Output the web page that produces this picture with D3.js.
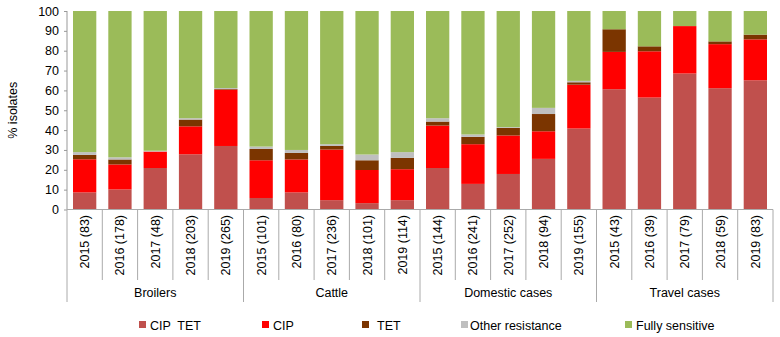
<!DOCTYPE html>
<html>
<head>
<meta charset="utf-8">
<script src="https://cdn.jsdelivr.net/npm/d3@7"></script>
<style>
  body { margin: 0; background: #fff; }
  svg text { font-family: "Liberation Sans", Arial, sans-serif; fill: #000; }
</style>
</head>
<body>
<svg id="chart" width="780" height="337"></svg>
<script>
const groups = ["Broilers", "Cattle", "Domestic cases", "Travel cases"];
const yearLabels = [
  ["2015 (83)", "2016 (178)", "2017 (48)", "2018 (203)", "2019 (265)"],
  ["2015 (101)", "2016 (80)", "2017 (236)", "2018 (101)", "2019 (114)"],
  ["2015 (144)", "2016 (241)", "2017 (252)", "2018 (94)", "2019 (155)"],
  ["2015 (43)", "2016 (39)", "2017 (79)", "2018 (59)", "2019 (83)"]
];
const seriesNames = ["CIP  TET", "CIP", "TET", "Other resistance", "Fully sensitive"];
const colors = ["#C0504D", "#FF0000", "#7B3500", "#BFBFBF", "#9BBB59"];

// % isolates per category, in order of yearLabels (flattened)
const cipTet = [8.6, 10.1, 20.9, 27.8, 32.0, 5.8, 8.6, 4.7, 3.2, 4.7, 20.9, 12.9, 17.9, 25.5, 40.8, 60.6, 56.4, 68.5, 61.1, 65.1];
const cip = [16.7, 12.6, 8.3, 14.1, 28.4, 19.0, 16.6, 25.5, 16.7, 15.6, 21.4, 20.0, 19.4, 13.9, 22.1, 18.8, 23.3, 23.9, 22.2, 20.6];
const tet = [2.2, 2.5, 0, 3.4, 0.3, 5.7, 3.3, 1.8, 4.9, 5.7, 2.0, 3.7, 3.8, 8.7, 1.2, 11.4, 2.5, 0, 1.4, 2.4];
const other = [1.4, 1.1, 0.4, 0.7, 0.5, 1.2, 1.5, 0.9, 2.9, 2.9, 1.7, 1.2, 0.4, 3.1, 0.7, 0, 0, 0, 0, 0];
const fullySens = [71.1, 73.7, 70.4, 54.0, 38.8, 68.3, 70.0, 67.1, 72.3, 71.1, 54.0, 62.2, 58.5, 48.8, 35.2, 9.2, 17.8, 7.6, 15.3, 11.9];
const yTicks = [0, 10, 20, 30, 40, 50, 60, 70, 80, 90, 100];

const svg = d3.select("#chart");
const margin = { left: 67, top: 11, right: 7 };
const plotBottom = 209.5;

const cats = yearLabels.flat();
const rows = cats.map((c, i) => ({
  cat: c,
  "CIP  TET": cipTet[i],
  "CIP": cip[i],
  "TET": tet[i],
  "Other resistance": other[i],
  "Fully sensitive": fullySens[i]
}));

const x = d3.scaleBand()
  .domain(cats)
  .range([margin.left, 780 - margin.right])
  .paddingInner(0.34)
  .paddingOuter(0.17);

const y = d3.scaleLinear().domain([0, 100]).range([plotBottom, margin.top]);

const stack = d3.stack().keys(seriesNames);
const layers = stack(rows);

svg.append("g")
  .selectAll("g")
  .data(layers)
  .join("g")
  .attr("fill", (d, i) => colors[i])
  .selectAll("rect")
  .data(d => d)
  .join("rect")
  .attr("x", d => x(d.data.cat))
  .attr("width", x.bandwidth())
  .attr("y", d => y(Math.min(100, d[1])))
  .attr("height", d => Math.max(0, y(d[0]) - y(Math.min(100, d[1]))));

// y axis
const yAxis = d3.axisLeft(y).tickValues(yTicks).tickSize(3).tickPadding(5);
const gy = svg.append("g")
  .attr("transform", `translate(${margin.left},0)`)
  .call(yAxis);
gy.select(".domain").attr("stroke", "#999").attr("d", `M0,${y(0)}V${y(100)}`);
gy.selectAll(".tick line").attr("stroke", "#999");
gy.selectAll(".tick text").attr("font-size", 12.5).attr("font-family", "Liberation Sans, Arial, sans-serif");

svg.append("text")
  .attr("transform", `translate(17,${(y(0) + y(100)) / 2}) rotate(-90)`)
  .attr("text-anchor", "middle")
  .attr("font-size", 12.5)
  .text("% isolates");

// x axis: baseline, category separators, rotated labels
const step = x.step();
const x0 = margin.left;
const axisG = svg.append("g").attr("stroke", "#aaa").attr("fill", "none");
axisG.append("line")
  .attr("x1", x0).attr("x2", x0 + step * cats.length)
  .attr("y1", plotBottom).attr("y2", plotBottom);

cats.forEach((c, i) => {
  const bx = x0 + step * i;
  const isGroupEdge = i % 5 === 0;
  axisG.append("line")
    .attr("x1", bx).attr("x2", bx)
    .attr("y1", plotBottom).attr("y2", isGroupEdge ? 302 : 280);
});
axisG.append("line")
  .attr("x1", x0 + step * cats.length).attr("x2", x0 + step * cats.length)
  .attr("y1", plotBottom).attr("y2", 302);

svg.append("g")
  .selectAll("text")
  .data(cats)
  .join("text")
  .attr("transform", d => `translate(${x(d) + x.bandwidth() / 2 + 4.5},215) rotate(-90)`)
  .attr("text-anchor", "end")
  .attr("font-size", 12.5)
  .text(d => d);

svg.append("g")
  .selectAll("text")
  .data(groups)
  .join("text")
  .attr("x", (d, i) => x0 + step * (i * 5 + 2.5))
  .attr("y", 297)
  .attr("text-anchor", "middle")
  .attr("font-size", 12.5)
  .text(d => d);

// legend
const legendX = [139, 262, 362, 461, 625];
const legend = svg.append("g")
  .selectAll("g")
  .data(seriesNames)
  .join("g")
  .attr("transform", (d, i) => `translate(${legendX[i]},325)`);
legend.append("rect")
  .attr("x", 0).attr("y", -4).attr("width", 7).attr("height", 7)
  .attr("fill", (d, i) => colors[i]);
legend.append("text")
  .attr("x", (d, i) => i === 2 ? 15 : (i === 3 ? 9 : 11))
  .attr("y", 4.5)
  .attr("font-size", 12.5)
  .attr("xml:space", "preserve")
  .style("white-space", "pre")
  .text(d => d);
</script>
</body>
</html>
